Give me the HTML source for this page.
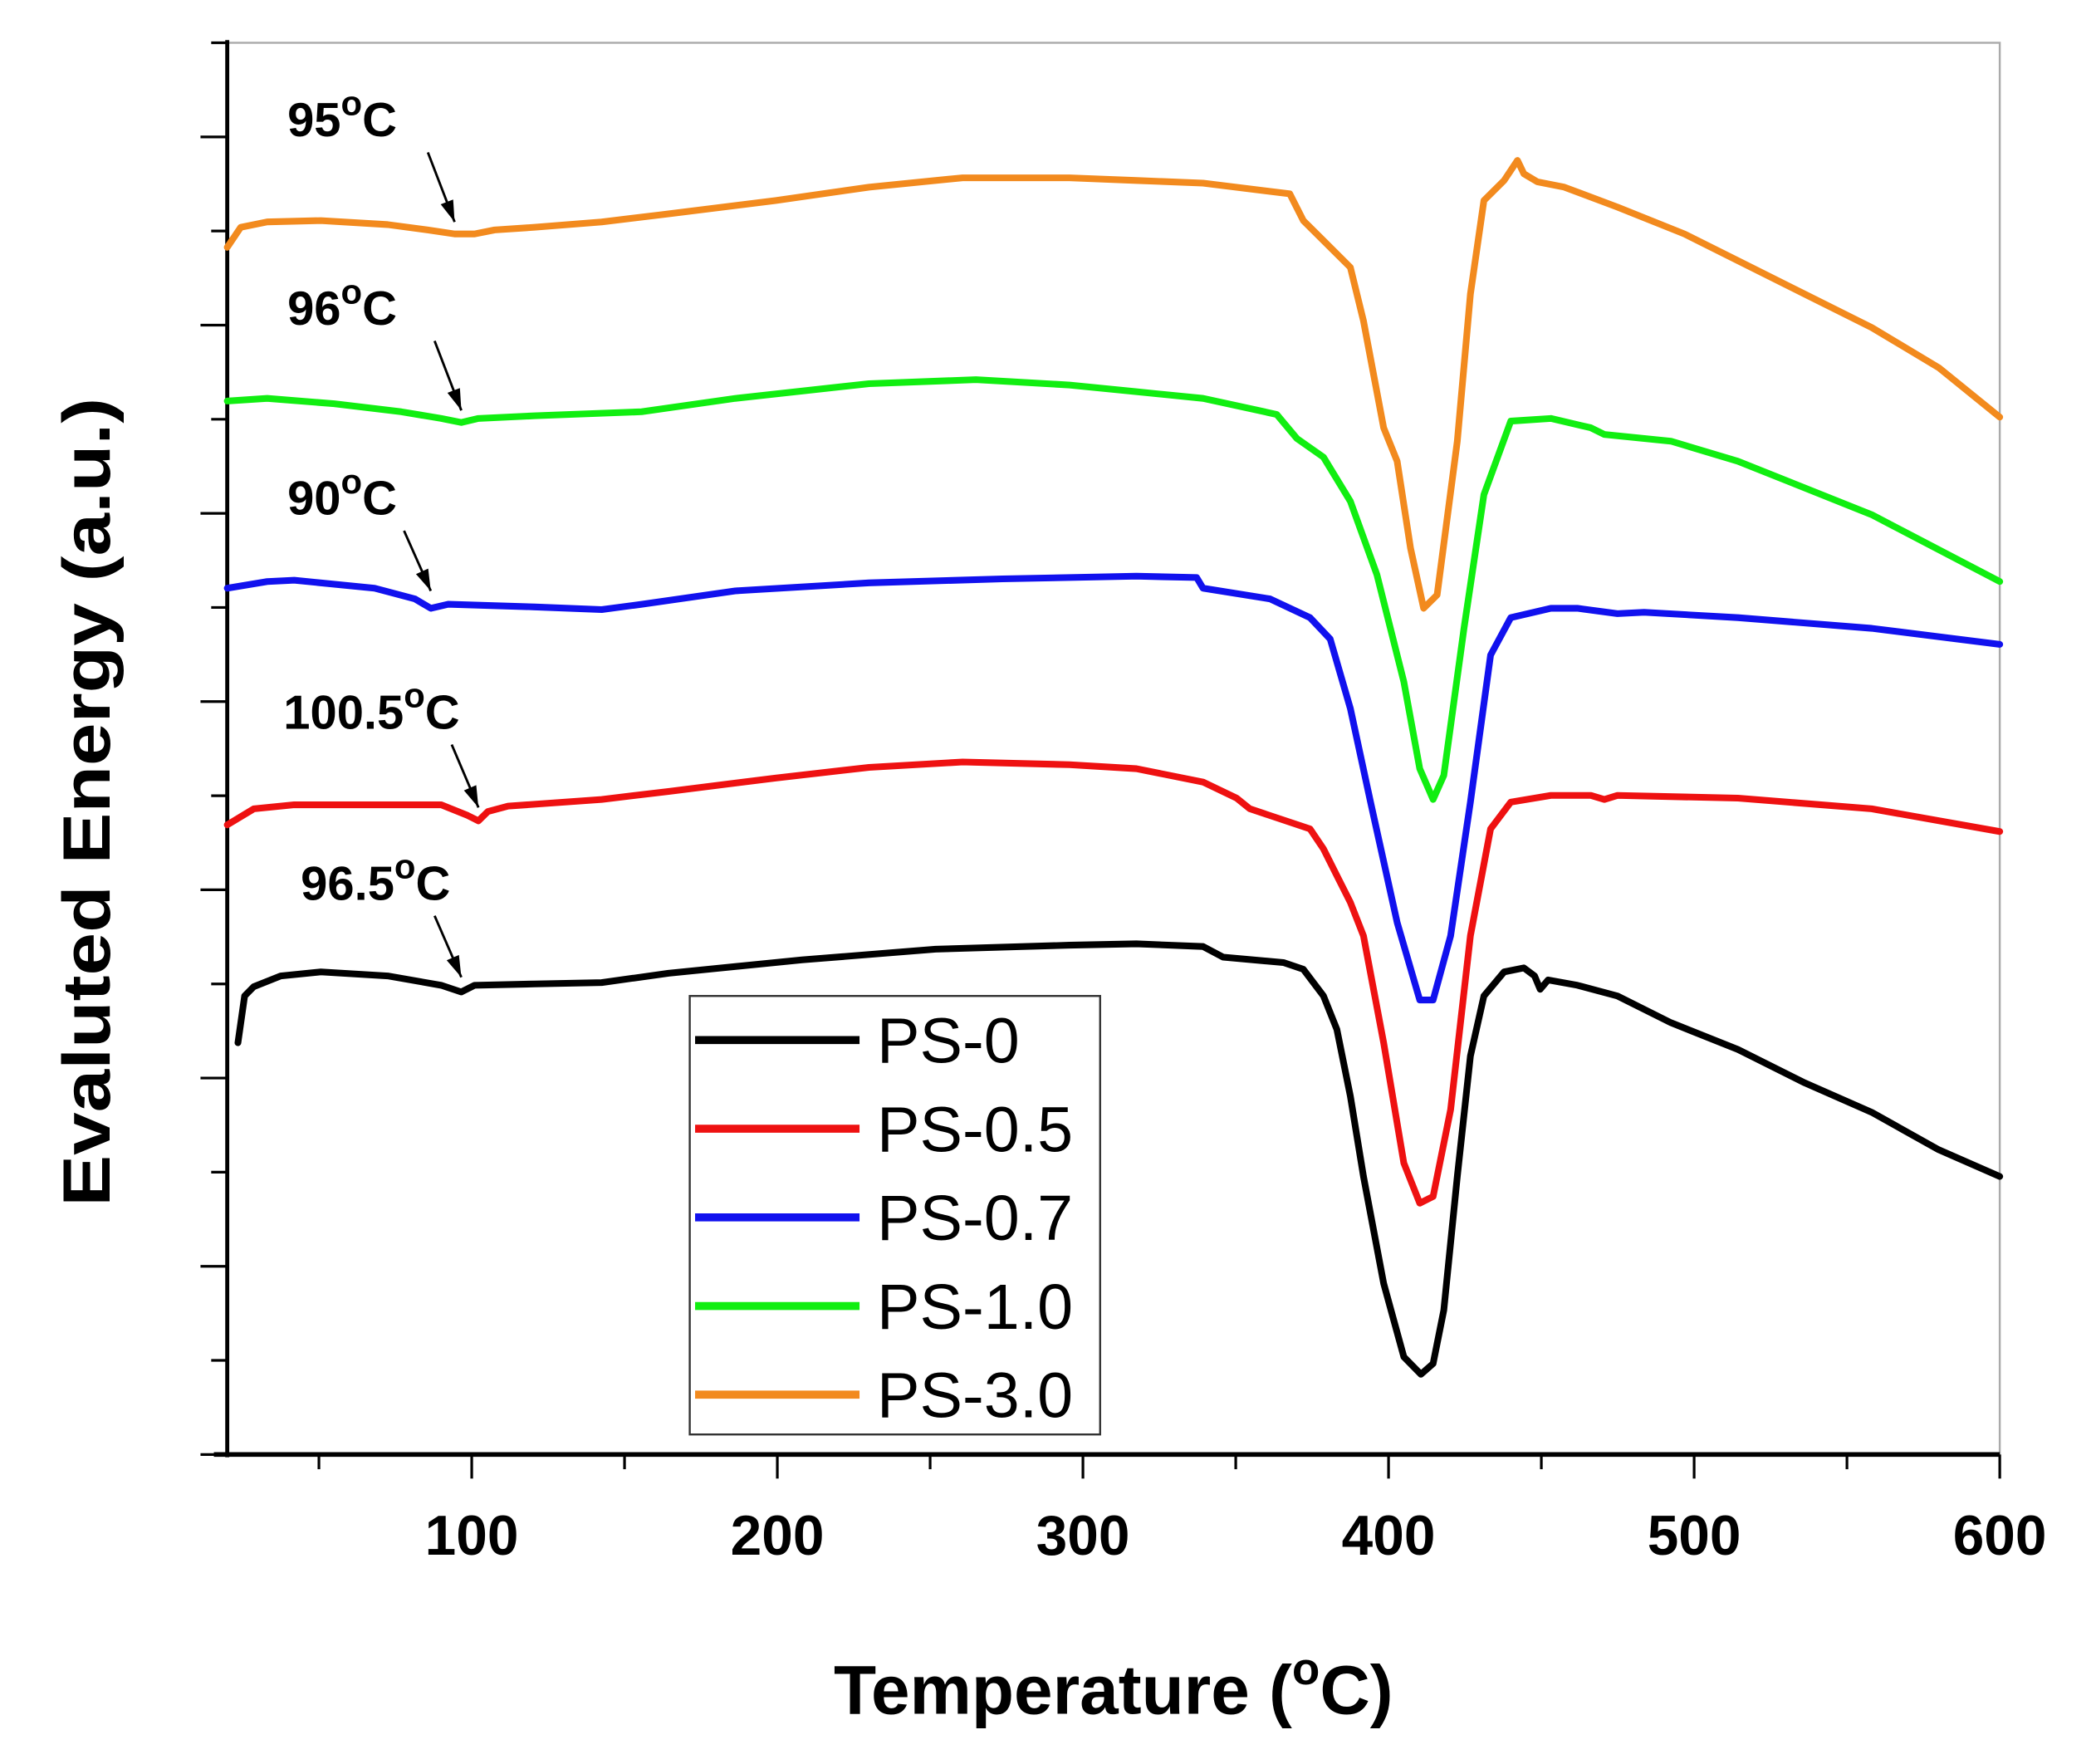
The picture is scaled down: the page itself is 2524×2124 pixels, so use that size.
<!DOCTYPE html>
<html><head><meta charset="utf-8"><style>
html,body{margin:0;padding:0;background:#fff;}
svg{display:block;}
text{font-family:"Liberation Sans",sans-serif;}
</style></head><body>
<svg id="chart" width="2524" height="2124" viewBox="0 0 1568 1319.5" preserveAspectRatio="none" xmlns="http://www.w3.org/2000/svg">
<rect width="1568" height="1320" fill="#fff"/>
<g id="frame"></g>
<g id="series"></g>
<g id="annot"></g>
<g id="legend"></g>
</svg>
<script>
const xTicks=[100,200,300,400,500,600];
const xMinor=[50,150,250,350,450,550];
const seriesNames=["PS-0","PS-0.5","PS-0.7","PS-1.0","PS-3.0"];
const seriesColors=["#000000","#ee1111","#1111ee","#11ee11","#f28a1e"];
const t0=[23.5,25.7,28.7,37.5,50.6,72.5,90,96.6,100.9,120.6,142.5,164.4,208.1,251.8,295.6,317.5,339.3,345.9,365.6,372.1,378.7,383.1,387.5,391.8,398.4,405,410.6,414.6,418.1,422.5,426.8,431.2,437.8,444.3,447.8,449.6,452.2,461.8,474.9,492.4,514.3,536.2,558.1,580,600];
const v0=[308,343,350,358,361,358,351,346,351,352,353,360,370,378,381,382,380,372,368,363,343,318,268,208,128,73,60,68,108,208,298,343,361,364,358,348,355,351,343,323,303,278,256,228,208];
const t1=[20,28.7,41.9,90,98.7,102.2,105.3,111.9,142.5,164.4,199.4,230,260.6,295.6,317.5,339.3,350.3,354.6,374.3,378.7,383.1,387.5,391.8,398.4,405,410.2,414.6,420.3,426.8,433.4,440,453.1,466.2,470.6,474.9,514.3,558.1,600];
const v1=[471,483,486,486,478,474,481,485,490,496,506,514,518,516,513,503,491,483,468,453,433,413,388,308,218,188,193,258,388,468,488,493,493,490,493,491,483,466];
const t2=[20,33.1,41.9,68.2,81.4,86.6,92.3,120.6,142.5,155.6,186.2,230,273.7,317.5,337.2,339.3,361.2,374.3,380.9,387.5,394.1,402.8,410.2,414.6,420.3,426.8,433.4,440,453.1,461.8,474.9,483.6,514.3,558.1,600];
const v2=[648,653,654,648,640,633,636,634,632,636,646,652,655,657,656,648,640,626,610,558,488,398,340,340,388,488,598,626,633,633,629,630,626,618,606];
const t3=[20,33.1,55,76.9,90,96.6,102.2,120.6,155.6,186.2,230,265,295.6,317.5,339.3,363.4,370,378.7,387.5,396.2,405,410.2,414.6,418.1,424.7,431.2,440,453.1,466.2,470.6,492.4,514.3,558.1,600];
const v3=[788,790,786,780,775,772,775,777,780,790,801,804,800,795,790,778,760,746,713,658,578,513,490,508,618,718,773,775,768,763,758,743,703,653];
const t4=[20,24.4,33.1,50.6,72.5,85.6,94.4,100.9,107.5,120.6,142.5,164.4,199.4,230,260.6,295.6,317.5,339.3,367.7,372.1,378.7,387.5,391.8,398.4,402.8,407.2,411.5,415.9,422.5,426.8,431.2,437.8,442.2,444.3,448.7,457.5,475,496.8,514.3,536.2,558.1,580,600];
const v4=[903,918,922,923,920,916,913,913,916,918,922,928,938,948,955,955,953,951,943,923,908,888,848,768,743,678,633,643,758,868,938,953,968,958,952,948,933,913,893,868,843,813,776];
const annLabels=["96.5","100.5","90","96","95"];
const annTemps=[96.6,102.2,86.6,96.6,94.4];

const NS="http://www.w3.org/2000/svg";
const L=170,R=1496,T=32,B=1088;
const X=t=>L+(t-20)*(R-L)/580;
const Y=v=>B-v;
function mk(tag,attrs,parent){const e=document.createElementNS(NS,tag);for(const k in attrs)e.setAttribute(k,attrs[k]);parent.appendChild(e);return e;}
const frame=document.getElementById('frame');
let e;
e=mk('rect',{x:L,y:T,width:R-L,height:B-T,fill:'none',stroke:'#aaa','stroke-width':1.5},frame);


e=mk('line',{x1:L,y1:T-2,x2:L,y2:B+2,stroke:'#000','stroke-width':3},frame);


e=mk('line',{x1:160,y1:B,x2:R,y2:B,stroke:'#000','stroke-width':3.5},frame);


for(let i=0;i<=15;i++){const y=B-i*(B-T)/15;const major=i%2===0;
 e=mk('line',{x1:major?150:158,y1:y,x2:L,y2:y,stroke:'#000','stroke-width':2},frame);
 
 }
xTicks.forEach(t=>{e=mk('line',{x1:X(t),y1:B,x2:X(t),y2:1106,stroke:'#000','stroke-width':2},frame);
 
 
 e=mk('text',{x:X(t),y:1163,'text-anchor':'middle','font-size':42,'font-weight':'bold'},frame);e.textContent=t;
 
 });
xMinor.forEach(t=>{e=mk('line',{x1:X(t),y1:B,x2:X(t),y2:1099,stroke:'#000','stroke-width':2},frame);
 
 });
e=mk('text',{x:833,y:1282,'text-anchor':'middle','font-size':52,'font-weight':'bold'},frame);
e.innerHTML='Temperature (<tspan dy="-22" font-size="34">o</tspan><tspan dy="22">C)</tspan>';


e=mk('text',{x:0,y:0,'text-anchor':'middle','font-size':50,'font-weight':'bold',transform:'translate(82,600) rotate(-90)',textLength:605,lengthAdjust:'spacingAndGlyphs'},frame);
e.textContent='Evaluted Energy (a.u.)';



const ts=[t0,t1,t2,t3,t4],vs=[v0,v1,v2,v3,v4];
const sg=document.getElementById('series');
ts.forEach((tt,i)=>{const d=tt.map((t,j)=>(j?'L':'M')+X(t).toFixed(1)+','+Y(vs[i][j]).toFixed(1)).join(' ');
 e=mk('path',{d:d,fill:'none',stroke:seriesColors[i],'stroke-width':5,'stroke-linejoin':'round','stroke-linecap':'round'},sg);
 
 });

const ag=document.getElementById('annot');
const labelPos=[[225,673],[212,545],[215,385],[215,243],[215,102]];
annLabels.forEach((lab,i)=>{
 const [lx,ly]=labelPos[i];
 e=mk('text',{x:lx,y:ly,'font-size':36,'font-weight':'bold'},ag);
 e.innerHTML=lab+'<tspan dy="-16" font-size="26">o</tspan><tspan dy="16">C</tspan>';
 
 
 const tt=ts[i],vv=vs[i];let k=0;while(k<tt.length-1&&tt[k+1]<annTemps[i])k++;
 const px=X(annTemps[i]),py=Y(vv[k])-6;
 e=mk('line',{x1:px-20,y1:ly+12,x2:px,y2:py,stroke:'#000','stroke-width':1.8},ag);
 
 
 const ang=Math.atan2(py-ly-12,20);const s=16,w=5;
 const bx=px-s*Math.cos(ang),by=py-s*Math.sin(ang);
 e=mk('polygon',{points:`${px},${py} ${bx-w*Math.sin(ang)},${by+w*Math.cos(ang)} ${bx+w*Math.sin(ang)},${by-w*Math.cos(ang)}`,fill:'#000'},ag);
 
 
});

const lg=document.getElementById('legend');
e=mk('rect',{x:516,y:745,width:307,height:328,fill:'#fff',stroke:'#333','stroke-width':1.5},lg);


seriesNames.forEach((n,i)=>{const y=778+i*66.3;
 e=mk('line',{x1:520,y1:y,x2:643,y2:y,stroke:seriesColors[i],'stroke-width':6},lg);
 
 
 e=mk('text',{x:656,y:y+17,'font-size':48},lg);e.textContent=n;
 
 });
</script>
</body></html>
